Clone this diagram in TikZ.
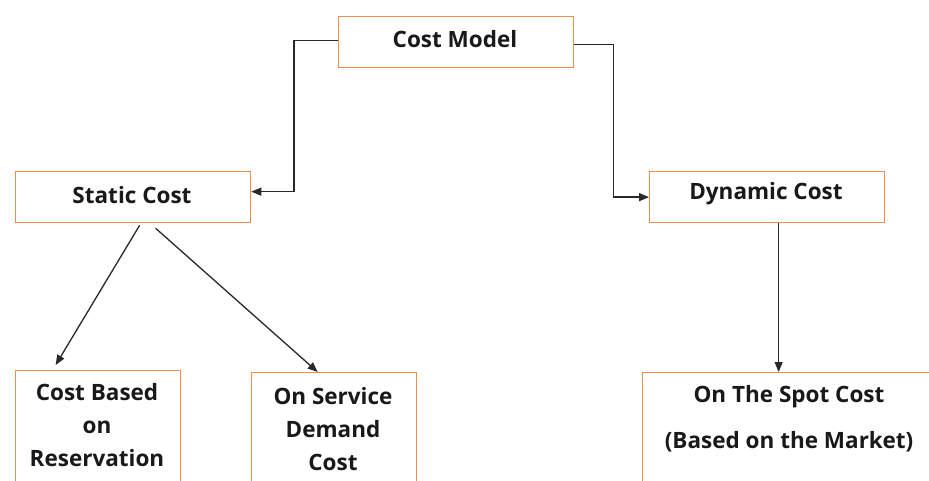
\documentclass[tikz,border=0pt]{standalone}
\usepackage{fontspec}
\setmainfont{Open Sans}
\usetikzlibrary{arrows.meta}
\definecolor{boxorange}{RGB}{240,140,80}
\definecolor{linkgray}{RGB}{40,40,40}
\tikzset{
  box/.style={draw=boxorange, line width=1.3pt, anchor=north west, inner sep=0pt},
  lbl/.style={font=\bfseries\fontsize{22.5}{33}\selectfont, align=center, text=black!90, inner sep=0pt},
  arr/.style={draw=linkgray, line width=1.3pt, -{Triangle[length=10pt,width=8pt]}},
}
\begin{document}
\begin{tikzpicture}[x=1pt,y=-1pt]
  \useasboundingbox (0,0) rectangle (929,481);
  \clip (0,0) rectangle (929,481);

  % boxes (the bottom row runs past the lower edge)
  \node[box, minimum width=235pt, minimum height=51pt] (cm) at (338,16) {};
  \node[box, minimum width=235pt, minimum height=51pt] (sc) at (15,171) {};
  \node[box, minimum width=235pt, minimum height=51pt] (dc) at (649,171) {};
  \node[box, minimum width=165pt, minimum height=130pt] (cb) at (15,370) {};
  \node[box, minimum width=165pt, minimum height=130pt] (os) at (251,372) {};
  \node[box, minimum width=294pt, minimum height=130pt] (spot) at (642,372) {};

  % labels
  \node[lbl] (cmt) at (455,39) {Cost Model};
  \node[lbl] (sct) at (132,195) {Static Cost};
  \node[lbl] (dct) at (766,194) {Dynamic Cost};
  \node[lbl] (cbt) at (97,425) {Cost Based\\on\\Reservation};
  \node[lbl] (ost) at (333,429) {On Service\\Demand\\Cost};
  \node[lbl, font=\bfseries\fontsize{22.5}{46}\selectfont] (spott) at (789,419) {On The Spot Cost\\(Based on the Market)};

  % connectors
  \draw[arr] ([yshift=1.5pt]cm.west) -- ++(-44,0) |- ([yshift=5.5pt]sc.east);
  \draw[arr] ([yshift=-2.5pt]cm.east) -- ++(39,0) |- (dc.west);
  \draw[arr] ([xshift=6.5pt,yshift=-2pt]sc.south) -- ([xshift=-42.5pt,yshift=5pt]cb.north);
  \draw[arr] ([xshift=22.5pt,yshift=-5pt]sc.south) -- ([xshift=-16.5pt]os.north);
  \draw[arr] ([xshift=11.5pt]dc.south) -- ([xshift=11.5pt]dc.south |- spot.north);
\end{tikzpicture}
\end{document}
